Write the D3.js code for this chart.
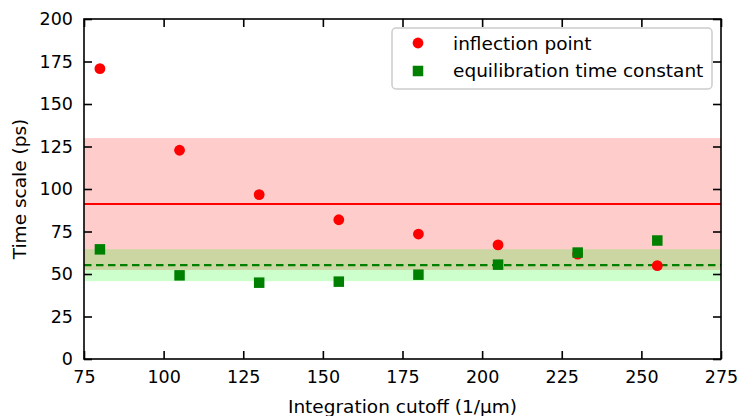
<!DOCTYPE html>
<html>
<head>
<meta charset="utf-8">
<script src="https://cdn.jsdelivr.net/npm/d3@7"></script>
<style>
  body { margin: 0; background: #fff; }
  svg { font-family: "DejaVu Sans", sans-serif; }
</style>
</head>
<body>
<div></div>
<script>
const width = 742
const height = 416

// data
const cutoffs = [80, 105, 130, 155, 180, 205, 230, 255]
const inflection = [170.8, 122.8, 96.7, 81.9, 73.5, 67.1, 61.7, 54.9]
const equilibration = [64.5, 49.2, 44.9, 45.5, 49.6, 55.5, 62.6, 69.7]
const xTicks = [75, 100, 125, 150, 175, 200, 225, 250, 275]
const yTicks = [0, 25, 50, 75, 100, 125, 150, 175, 200]
const legendLabels = ['inflection point', 'equilibration time constant']

const margin = {left: 84, right: 21, top: 19, bottom: 57}

let svg = d3.select('div').append('svg')
    .attr('width', width)
    .attr('height', height)

const x = d3.scaleLinear().domain([75, 275]).range([margin.left, width - margin.right])
const y = d3.scaleLinear().domain([0, 200]).range([height - margin.bottom, margin.top])

// mean +- sample std bands
const stats = (arr) => ({m: d3.mean(arr), s: d3.deviation(arr)})
const infl = stats(inflection)
const equi = stats(equilibration)

const plot = svg.append('g')

plot.append('rect')
    .attr('x', x(75)).attr('width', x(275) - x(75))
    .attr('y', y(infl.m + infl.s)).attr('height', y(infl.m - infl.s) - y(infl.m + infl.s))
    .style('fill', '#ff0000').style('fill-opacity', 0.2)

plot.append('rect')
    .attr('x', x(75)).attr('width', x(275) - x(75))
    .attr('y', y(equi.m + equi.s)).attr('height', y(equi.m - equi.s) - y(equi.m + equi.s))
    .style('fill', '#00ff00').style('fill-opacity', 0.2)

plot.append('line')
    .attr('x1', x(75)).attr('x2', x(275))
    .attr('y1', y(infl.m)).attr('y2', y(infl.m))
    .style('stroke', '#ff0000').style('stroke-width', 2.2)

plot.append('line')
    .attr('x1', x(75)).attr('x2', x(275))
    .attr('y1', y(equi.m)).attr('y2', y(equi.m))
    .style('stroke', '#008000').style('stroke-width', 2.2)
    .style('stroke-dasharray', '7.5,4.5')

plot.selectAll('circle.infl')
    .data(cutoffs)
    .enter()
    .append('circle')
    .attr('class', 'infl')
    .attr('cx', d => x(d))
    .attr('cy', (d, i) => y(inflection[i]))
    .attr('r', 5.4)
    .style('fill', '#ff0000')

const sq = 10.5
plot.selectAll('rect.equi')
    .data(cutoffs)
    .enter()
    .append('rect')
    .attr('class', 'equi')
    .attr('x', d => x(d) - sq / 2)
    .attr('y', (d, i) => y(equilibration[i]) - sq / 2)
    .attr('width', sq).attr('height', sq)
    .style('fill', '#008000')

// axes, ticks inward on all sides
const tickLen = 8
const xAxis = d3.axisBottom(x).tickValues(xTicks).tickSizeInner(-tickLen).tickSizeOuter(0).tickPadding(12)
const yAxis = d3.axisLeft(y).tickValues(yTicks).tickSizeInner(-tickLen).tickSizeOuter(0).tickPadding(11)

const gx = svg.append('g').attr('transform', 'translate(0,' + y(0) + ')').call(xAxis)
const gy = svg.append('g').attr('transform', 'translate(' + x(75) + ',0)').call(yAxis)
const gxt = svg.append('g').attr('transform', 'translate(0,' + y(200) + ')')
    .call(d3.axisTop(x).tickValues(xTicks).tickSizeInner(-tickLen).tickSizeOuter(0).tickFormat(''))
const gyr = svg.append('g').attr('transform', 'translate(' + x(275) + ',0)')
    .call(d3.axisRight(y).tickValues(yTicks).tickSizeInner(-tickLen).tickSizeOuter(0).tickFormat(''))

;[gx, gy, gxt, gyr].forEach(g => {
    g.select('.domain').remove()
    g.selectAll('line').style('stroke', '#000').style('stroke-width', 1.6)
    g.selectAll('text').style('font-size', '17.5px').style('fill', '#000')
        .style('font-family', '"DejaVu Sans", sans-serif')
})

svg.append('rect')
    .attr('x', x(75)).attr('y', y(200))
    .attr('width', x(275) - x(75)).attr('height', y(0) - y(200))
    .style('fill', 'none').style('stroke', '#000').style('stroke-width', 1.6)

// axis labels
svg.append('text')
    .attr('x', (x(75) + x(275)) / 2)
    .attr('y', 413)
    .attr('text-anchor', 'middle')
    .style('font-size', '18.5px')
    .text('Integration cutoff (1/μm)')

svg.append('text')
    .attr('transform', 'translate(26,' + (y(100)) + ') rotate(-90)')
    .attr('text-anchor', 'middle')
    .style('font-size', '18.5px')
    .text('Time scale (ps)')

// legend
const legend = svg.append('g').attr('transform', 'translate(392,28)')
legend.append('rect')
    .attr('width', 320).attr('height', 61)
    .attr('rx', 4)
    .style('fill', '#fff').style('fill-opacity', 0.8)
    .style('stroke', '#ccc').style('stroke-width', 1.5)

legend.append('circle')
    .attr('cx', 26).attr('cy', 15).attr('r', 5.4)
    .style('fill', '#ff0000')
legend.append('rect')
    .attr('x', 26 - sq / 2).attr('y', 43 - sq / 2).attr('width', sq).attr('height', sq)
    .style('fill', '#008000')

legend.selectAll('text')
    .data(legendLabels)
    .enter()
    .append('text')
    .attr('x', 61)
    .attr('y', (d, i) => 22 + i * 27)
    .style('font-size', '18.5px')
    .text(d => d)
</script>
</body>
</html>
